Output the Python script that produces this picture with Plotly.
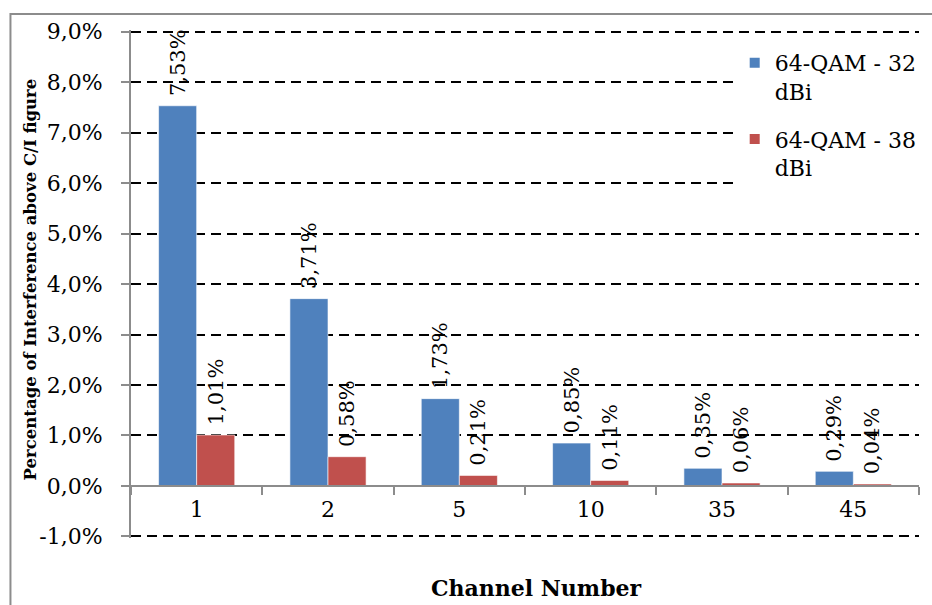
import plotly.graph_objects as go

channels = ["1", "2", "5", "10", "35", "45"]
qam_32 = [7.53, 3.71, 1.73, 0.85, 0.35, 0.29]
qam_38 = [1.01, 0.58, 0.21, 0.11, 0.06, 0.04]
series_names = ["64-QAM - 32<br>dBi", "64-QAM - 38<br>dBi"]
y_tick_vals = [-1, 0, 1, 2, 3, 4, 5, 6, 7, 8, 9]
y_tick_text = ["-1,0%", "0,0%", "1,0%", "2,0%", "3,0%", "4,0%", "5,0%", "6,0%", "7,0%", "8,0%", "9,0%"]

FONT = "DejaVu Serif"
W, H = 932, 605
L, R, T, B = 131, 10, 30, 67
pw, ph = W - L - R, H - T - B
Y_RANGE = [-1.03, 9.03]

def px_x(p):
    return (p - L) / pw

def px_y(p):
    return (H - B - p) / ph

fig = go.Figure()
for i, (name, vals, col) in enumerate([(series_names[0], qam_32, "#4F81BD"),
                                       (series_names[1], qam_38, "#C0504D")]):
    fig.add_trace(go.Bar(
        x=channels, y=vals, name=name, legendgroup="g%d" % i,
        marker=dict(color=col, line=dict(color="white", width=0.6)),
        texttemplate="\u00a0%{y:.2f}%", textposition="outside", textangle=-90,
        textfont=dict(family=FONT, size=21, color="black"),
        cliponaxis=False, constraintext="none",
    ))

fig.update_layout(
    width=W, height=H,
    margin=dict(l=L, r=R, t=T, b=B),
    paper_bgcolor="white", plot_bgcolor="white",
    separators=",.",
    barmode="group", bargap=0.42, bargroupgap=0,
    font=dict(family=FONT, size=22, color="black"),
    showlegend=True,
    legend=dict(
        x=px_x(737), y=px_y(42), xanchor="left", yanchor="top",
        bgcolor="white", font=dict(family=FONT, size=22, color="black"),
        tracegroupgap=16, valign="top", itemsizing="constant",
    ),
    xaxis=dict(
        type="category", anchor="free",
        position=(0 - Y_RANGE[0]) / (Y_RANGE[1] - Y_RANGE[0]),
        showline=True, linecolor="#8c8c8c", linewidth=2,
        ticks="outside", tickson="boundaries", ticklen=8, tickwidth=2, tickcolor="#8c8c8c",
        tickfont=dict(family=FONT, size=22, color="black"),
        ticklabelstandoff=4,
        showgrid=False,
    ),
    yaxis=dict(
        range=Y_RANGE, tickvals=y_tick_vals, ticktext=y_tick_text,
        showline=True, linecolor="#8c8c8c", linewidth=2,
        ticks="outside", ticklen=8, tickwidth=2, tickcolor="#8c8c8c",
        tickfont=dict(family=FONT, size=22, color="black"),
        ticklabelstandoff=14,
        showgrid=True, gridcolor="black", gridwidth=2, griddash="10px,6px",
        zeroline=False,
    ),
    annotations=[
        dict(text="<b>Percentage of Interference above C/I figure</b>", textangle=-90,
             x=px_x(30), y=px_y(279), xref="paper", yref="paper", showarrow=False,
             xanchor="center", yanchor="middle",
             font=dict(family=FONT, size=16.5, color="black")),
        dict(text="<b>Channel Number</b>",
             x=px_x(538), y=px_y(588), xref="paper", yref="paper", showarrow=False,
             xanchor="center", yanchor="middle",
             font=dict(family=FONT, size=22, color="black")),
    ],
    shapes=[
        dict(type="rect", xref="paper", yref="paper",
             x0=px_x(10), x1=px_x(960), y0=px_y(640), y1=px_y(14),
             line=dict(color="#8c8c8c", width=2), fillcolor="rgba(0,0,0,0)", layer="below"),
    ],
)

fig.write_html("out.html", config={"displayModeBar": False},
               post_script="document.body.style.margin='0px';")
